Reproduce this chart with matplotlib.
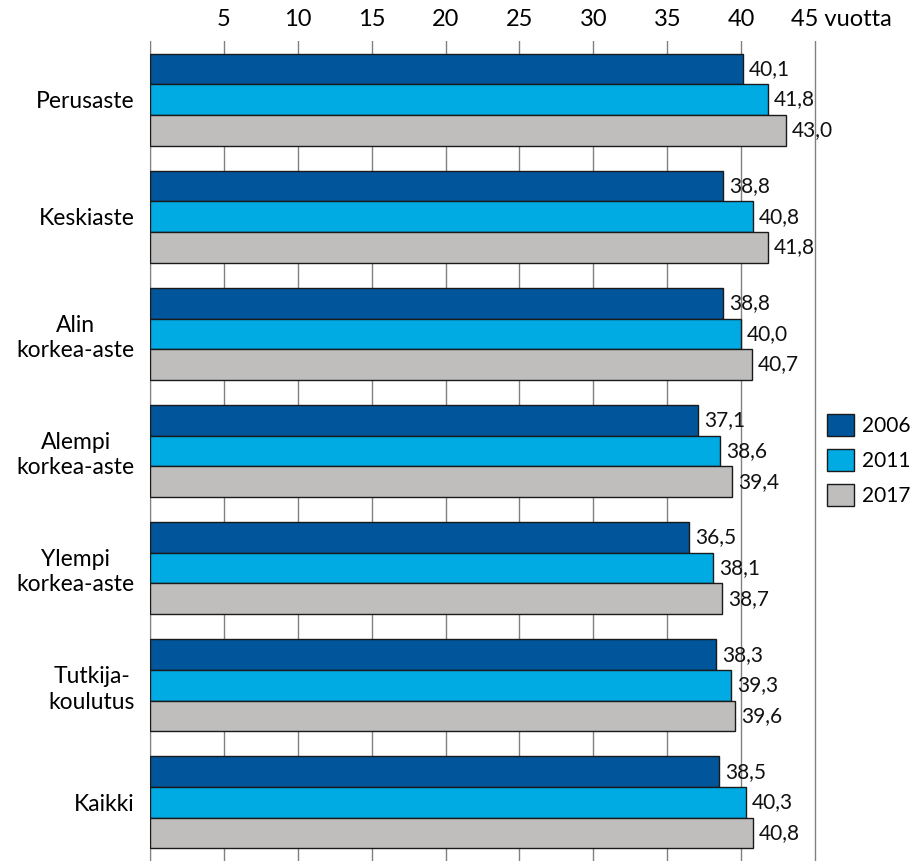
import numpy as np
import matplotlib
matplotlib.use('Agg')
import matplotlib.pyplot as plt
import matplotlib.transforms as mtransforms
from matplotlib.patches import Patch

plt.rcParams['font.family'] = ['Lato', 'DejaVu Sans']

categories = ['Perusaste', 'Keskiaste', 'Alin\nkorkea-aste', 'Alempi\nkorkea-aste',
              'Ylempi\nkorkea-aste', 'Tutkija-\nkoulutus', 'Kaikki']
years = ['2006', '2011', '2017']
v2006 = [40.1, 38.8, 38.8, 37.1, 36.5, 38.3, 38.5]
v2011 = [41.8, 40.8, 40.0, 38.6, 38.1, 39.3, 40.3]
v2017 = [43.0, 41.8, 40.7, 39.4, 38.7, 39.6, 40.8]
tick_vals = [5, 10, 15, 20, 25, 30, 35, 40]
tick_labels = ['5', '10', '15', '20', '25', '30', '35', '40']
last_label = '45 vuotta'

colors = ['#00559b', '#00abe3', '#bfbebd']

fig = plt.figure(figsize=(9.19, 8.61), dpi=100)
ax = fig.add_axes([150/919, 0/861, 667/919, 820/861])

n = len(categories)
bar_h = 0.262
y = np.arange(n)
for i, (vals, c, lab) in enumerate(zip([v2006, v2011, v2017], colors, years)):
    pos = y + (i - 1) * bar_h
    ax.barh(pos, vals, height=bar_h, color=c, edgecolor='#1a1a1a', linewidth=1.0,
            label=lab, zorder=3)
    for p, v in zip(pos, vals):
        ax.text(v + 0.4, p, f'{v:.1f}'.replace('.', ','), va='center', ha='left',
                fontsize=15, color='#111111', zorder=4)

ax.set_xlim(0, 45.13)
ax.set_ylim(n - 0.5, -0.5)
ax.set_yticks(y)
ax.set_yticklabels(categories, fontsize=16.5, multialignment='center',
                   linespacing=1.25)
ax.tick_params(axis='y', length=0, pad=11)

ax.xaxis.tick_top()
ax.set_xticks([0] + tick_vals + [45])
ax.set_xticklabels([''] + tick_labels + [''], fontsize=17)
ax.tick_params(axis='x', length=0, pad=8)
trans = mtransforms.blended_transform_factory(ax.transData, ax.transAxes)
ax.text(43.35, 1.0, last_label, ha='left', va='bottom', fontsize=17, color='black',
        transform=trans + mtransforms.ScaledTranslation(0, 8/72, fig.dpi_scale_trans))

ax.grid(axis='x', color='#808080', linewidth=1.0, zorder=0)
for s in ['top', 'right', 'bottom']:
    ax.spines[s].set_visible(False)
ax.spines['left'].set_color('#808080')

handles = [Patch(facecolor=c, edgecolor='#1a1a1a', label=l) for c, l in zip(colors, years)]
fig.legend(handles=handles, loc='center left', bbox_to_anchor=(827/919, 1 - 460/861),
           frameon=False, fontsize=15, handlelength=1.3, handleheight=1.25,
           handletextpad=0.4, labelspacing=0.62, borderaxespad=0, borderpad=0)

fig.savefig('out.png', dpi=100)
